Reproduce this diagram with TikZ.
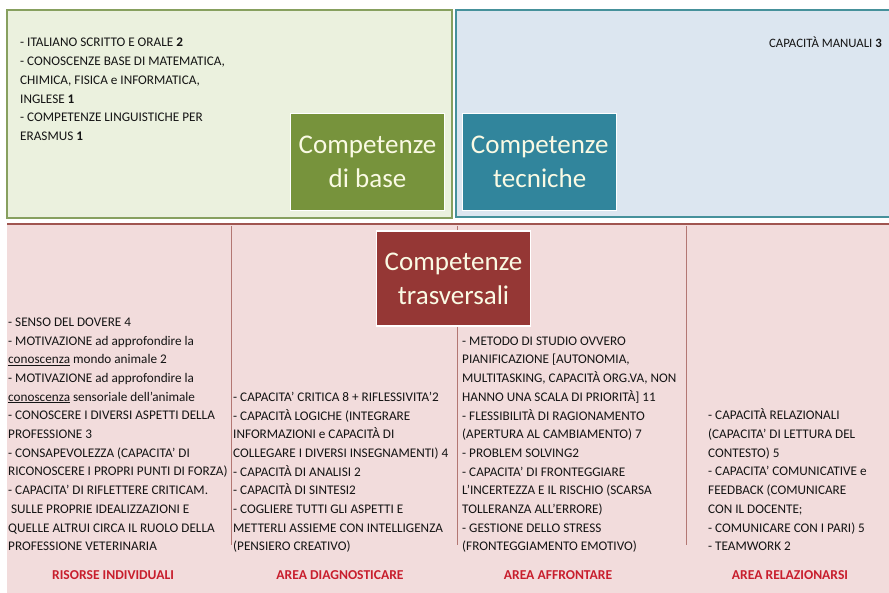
\documentclass[tikz,border=0pt]{standalone}
\usepackage{fontspec}
\setmainfont{Carlito}
\usetikzlibrary{positioning}
\definecolor{basegreen}{RGB}{119,147,60}
\definecolor{techteal}{RGB}{49,133,156}
\definecolor{transred}{RGB}{149,55,53}
\definecolor{greenpane}{RGB}{235,241,222}
\definecolor{bluepane}{RGB}{220,230,240}
\definecolor{pinkpane}{RGB}{242,220,220}
\definecolor{greenedge}{RGB}{135,160,95}
\definecolor{tealedge}{RGB}{70,145,155}
\definecolor{rededge}{RGB}{160,85,80}
\definecolor{arealabel}{RGB}{200,30,45}
\definecolor{creamtext}{RGB}{250,250,228}

\tikzset{
  titlebox/.style={draw=white, line width=1.2pt, text=creamtext, align=center,
    font=\fontsize{27}{34}\selectfont, minimum width=154pt, minimum height=97pt, inner sep=0pt},
  listtext/.style={align=left, inner sep=0pt, text=black!92,
    font=\fontsize{13.2}{18.7}\selectfont},
  areatitle/.style={inner sep=0pt, text=arealabel, font=\bfseries\fontsize{13.6}{15}\selectfont},
}

\begin{document}
\begin{tikzpicture}[x=1pt, y=-1pt]
  \useasboundingbox (0,0) rectangle (889,593);

  % the three panes
  \filldraw[fill=greenpane, draw=greenedge, line width=1.2pt] (7,10) rectangle (452,218);
  \filldraw[fill=bluepane, draw=tealedge, line width=1.2pt] (456,10) rectangle (895,217);
  \fill[pinkpane] (7,224) rectangle (895,600);
  \draw[rededge, line width=1.5pt] (7,224) -- (895,224);

  % column rules
  \foreach \xr in {231,457,686}
    \draw[rededge!80, line width=0.8pt] (\xr,226) -- (\xr,545);

  % title boxes
  \node[titlebox, fill=basegreen] (base) at (367.5,162) {Competenze\\di base};
  \node[titlebox, fill=techteal, right=17pt of base] (tech) {Competenze\\tecniche};
  \node[titlebox, fill=transred, minimum height=95pt] (trasv) at (453.5,278.5) {Competenze\\trasversali};

  % top panes
  \node[listtext, anchor=south west, font=\fontsize{13.2}{18.8}\selectfont] (basetext) at (20,141)
    {- ITALIANO SCRITTO E ORALE \textbf{2}\\
     - CONOSCENZE BASE DI MATEMATICA,\\
     CHIMICA, FISICA e INFORMATICA,\\
     INGLESE \textbf{1}\\
     - COMPETENZE LINGUISTICHE PER\\
     ERASMUS \textbf{1}};
  \node[listtext, anchor=base east, font=\fontsize{12.8}{14}\selectfont] (techtext) at (882,48)
    {CAPACITÀ MANUALI \textbf{3}};

  % bottom columns
  \node[listtext, anchor=south west] (indiv) at (8,551)
    {- SENSO DEL DOVERE 4\\
     - MOTIVAZIONE ad approfondire la\\
     \underline{conoscenza} mondo animale 2\\
     - MOTIVAZIONE ad approfondire la\\
     \underline{conoscenza} sensoriale dell’animale\\
     - CONOSCERE I DIVERSI ASPETTI DELLA\\
     PROFESSIONE 3\\
     - CONSAPEVOLEZZA (CAPACITA’ DI\\
     RICONOSCERE I PROPRI PUNTI DI FORZA)\\
     - CAPACITA’ DI RIFLETTERE CRITICAM.\\
     \ SULLE PROPRIE IDEALIZZAZIONI E\\
     QUELLE ALTRUI CIRCA IL RUOLO DELLA\\
     PROFESSIONE VETERINARIA};
  \node[listtext, anchor=south west] (diagn) at (233,553)
    {- CAPACITA’ CRITICA 8 + RIFLESSIVITA’2\\
     - CAPACITÀ LOGICHE (INTEGRARE\\
     INFORMAZIONI e CAPACITÀ DI\\
     COLLEGARE I DIVERSI INSEGNAMENTI) 4\\
     - CAPACITÀ DI ANALISI 2\\
     - CAPACITÀ DI SINTESI2\\
     - COGLIERE TUTTI GLI ASPETTI E\\
     METTERLI ASSIEME CON INTELLIGENZA\\
     (PENSIERO CREATIVO)};
  \node[listtext, anchor=south west] (affr) at (462,553)
    {- METODO DI STUDIO OVVERO\\
     PIANIFICAZIONE [AUTONOMIA,\\
     MULTITASKING, CAPACITÀ ORG.VA, NON\\
     HANNO UNA SCALA DI PRIORITÀ] 11\\
     - FLESSIBILITÀ DI RAGIONAMENTO\\
     (APERTURA AL CAMBIAMENTO) 7\\
     - PROBLEM SOLVING2\\
     - CAPACITA’ DI FRONTEGGIARE\\
     L’INCERTEZZA E IL RISCHIO (SCARSA\\
     TOLLERANZA ALL’ERRORE)\\
     - GESTIONE DELLO STRESS\\
     (FRONTEGGIAMENTO EMOTIVO)};
  \node[listtext, anchor=south west] (relaz) at (708,551)
    {- CAPACITÀ RELAZIONALI\\
     (CAPACITA’ DI LETTURA DEL\\
     CONTESTO) 5\\
     - CAPACITA’ COMUNICATIVE e\\
     FEEDBACK (COMUNICARE\\
     CON IL DOCENTE;\\
     - COMUNICARE CON I PARI) 5\\
     - TEAMWORK 2};

  % area names
  \node[areatitle] (l1) at (113,575) {RISORSE INDIVIDUALI};
  \node[areatitle] (l2) at (340,575) {AREA DIAGNOSTICARE};
  \node[areatitle] (l3) at (558,575) {AREA AFFRONTARE};
  \node[areatitle] (l4) at (790,575) {AREA RELAZIONARSI};
\end{tikzpicture}
\end{document}
